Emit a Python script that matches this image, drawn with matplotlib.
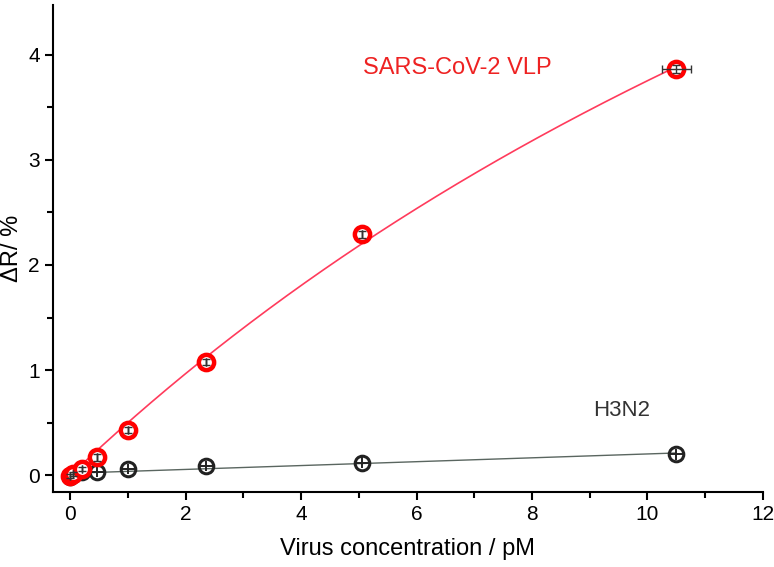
import numpy as np
import matplotlib
matplotlib.use('Agg')
import matplotlib.pyplot as plt
from matplotlib.ticker import MultipleLocator

plt.rcParams['font.family'] = ['Liberation Sans', 'DejaVu Sans']

conc = [0, 0.05, 0.2, 0.46, 1.0, 2.35, 5.05, 10.5]
sars = [-0.01, 0.01, 0.06, 0.17, 0.43, 1.08, 2.29, 3.86]
sars_err = [0.02, 0.02, 0.02, 0.03, 0.03, 0.03, 0.03, 0.04]
sars_xerr = [0, 0, 0, 0, 0, 0, 0, 0.25]
h3n2 = [-0.02, 0.0, 0.03, 0.035, 0.06, 0.09, 0.12, 0.2]
h3n2_err = [0.05, 0.05, 0.05, 0.05, 0.05, 0.05, 0.05, 0.05]

x = np.array(conc)
ys = np.array(sars)
yh = np.array(h3n2)

# Langmuir fit for SARS-CoV-2 VLP (simple grid search over Kd)
best = None
for K in np.linspace(1, 100, 2000):
    f = x / (K + x)
    B = np.dot(f, ys) / np.dot(f, f)
    r = np.sum((ys - B * f) ** 2)
    if best is None or r < best[0]:
        best = (r, K, B)
_, K, B = best
xf = np.linspace(0, 10.5, 300)
yf = B * xf / (K + xf)

# linear fit for H3N2
p = np.polyfit(x, yh, 1)
xl = np.array([0, 10.5])

fig = plt.figure(figsize=(7.74, 5.67), dpi=100)
ax = fig.add_axes([0.0685, 0.132, 0.917, 0.859])

ax.plot(xf, yf, color='#ff3b5c', lw=1.2, zorder=2)
ax.plot(xl, np.polyval(p, xl), color='#5a6660', lw=1.0, zorder=2)

ax.errorbar(conc, h3n2, yerr=h3n2_err, xerr=0.13, fmt='none', ecolor='#222222',
            elinewidth=1.4, capsize=0, zorder=3)
ax.plot(conc, h3n2, 'o', ms=10.5, mfc='none', mec='#222222', mew=2.2, zorder=4)

ax.plot(conc, sars, 'o', ms=11, mfc='white', mec='red', mew=3.2, zorder=5)
ax.errorbar(conc, sars, yerr=sars_err, xerr=sars_xerr, fmt='none', ecolor='#333333',
            elinewidth=1.0, capsize=3, zorder=6)

ax.text(6.7, 3.87, 'SARS-CoV-2 VLP', color='#ee2222', fontsize=17,
        ha='center', va='center')
ax.text(9.55, 0.62, 'H3N2', color='#333333', fontsize=16, ha='center', va='center')

ax.set_xlim(-0.3, 12)
ax.set_ylim(-0.16, 4.47)
ax.xaxis.set_major_locator(MultipleLocator(2))
ax.xaxis.set_minor_locator(MultipleLocator(1))
ax.yaxis.set_major_locator(MultipleLocator(1))
ax.yaxis.set_minor_locator(MultipleLocator(0.5))
ax.spines['top'].set_visible(False)
ax.spines['right'].set_visible(False)
for s in ['left', 'bottom']:
    ax.spines[s].set_linewidth(1.5)
ax.tick_params(which='both', direction='out', width=1.5, labelsize=15)
ax.tick_params(which='major', length=6)
ax.tick_params(which='minor', length=4)

ax.set_xlabel('Virus concentration / pM', fontsize=17, labelpad=10)
ax.set_ylabel('ΔR/ %', fontsize=17, labelpad=4)

fig.savefig('out.png', dpi=100)
